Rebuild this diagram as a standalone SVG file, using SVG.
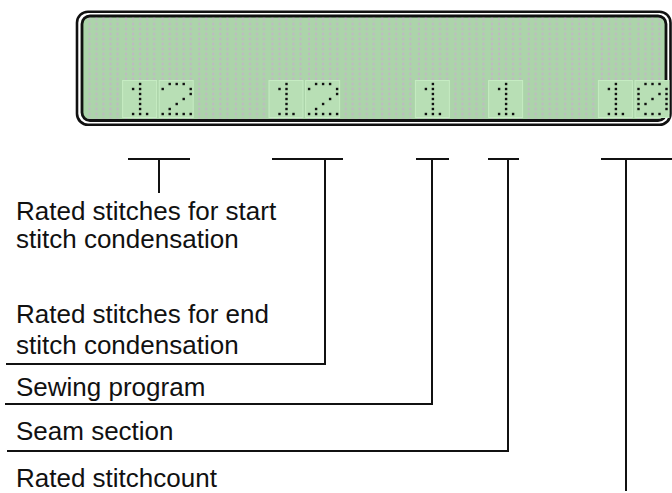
<svg xmlns="http://www.w3.org/2000/svg" xmlns:xlink="http://www.w3.org/1999/xlink" width="672" height="493" viewBox="0 0 672 493">
<style>
.lbl{font-family:"Liberation Sans",Arial,sans-serif;font-size:26px;fill:#111}
.ln{fill:none;stroke:#111;stroke-width:2;stroke-linecap:square}
.dot{fill:#111}
.cell{fill:#b8dfb5;stroke:#c6ecc3;stroke-width:1}
</style>
<defs>
<pattern id="grid" patternUnits="userSpaceOnUse" x="85.5" y="81.5" width="36.6" height="5">
<rect x="2.9" y="1.4" width="2.2" height="2.2" fill="#c2b6c6"/>
<rect x="9.9" y="1.4" width="2.2" height="2.2" fill="#c2b6c6"/>
<rect x="16.9" y="1.4" width="2.2" height="2.2" fill="#c2b6c6"/>
<rect x="23.9" y="1.4" width="2.2" height="2.2" fill="#c2b6c6"/>
<rect x="30.9" y="1.4" width="2.2" height="2.2" fill="#c2b6c6"/>
</pattern>
<g id="g1" class="dot">
<rect x="16.8" y="82.8" width="2.4" height="2.4"/>
<rect x="9.8" y="87.8" width="2.4" height="2.4"/><rect x="16.8" y="87.8" width="2.4" height="2.4"/>
<rect x="16.8" y="92.8" width="2.4" height="2.4"/>
<rect x="16.8" y="97.8" width="2.4" height="2.4"/>
<rect x="16.8" y="102.8" width="2.4" height="2.4"/>
<rect x="16.8" y="107.8" width="2.4" height="2.4"/>
<rect x="9.8" y="112.8" width="2.4" height="2.4"/><rect x="16.8" y="112.8" width="2.4" height="2.4"/><rect x="23.8" y="112.8" width="2.4" height="2.4"/>
</g>
<g id="g2" class="dot">
<rect x="9.8" y="82.8" width="2.4" height="2.4"/><rect x="16.8" y="82.8" width="2.4" height="2.4"/><rect x="23.8" y="82.8" width="2.4" height="2.4"/>
<rect x="2.8" y="87.8" width="2.4" height="2.4"/><rect x="30.8" y="87.8" width="2.4" height="2.4"/>
<rect x="30.8" y="92.8" width="2.4" height="2.4"/>
<rect x="23.8" y="97.8" width="2.4" height="2.4"/>
<rect x="16.8" y="102.8" width="2.4" height="2.4"/>
<rect x="9.8" y="107.8" width="2.4" height="2.4"/>
<rect x="2.8" y="112.8" width="2.4" height="2.4"/><rect x="9.8" y="112.8" width="2.4" height="2.4"/><rect x="16.8" y="112.8" width="2.4" height="2.4"/><rect x="23.8" y="112.8" width="2.4" height="2.4"/><rect x="30.8" y="112.8" width="2.4" height="2.4"/>
</g>
<g id="g0" class="dot">
<rect x="9.8" y="82.8" width="2.4" height="2.4"/><rect x="16.8" y="82.8" width="2.4" height="2.4"/><rect x="23.8" y="82.8" width="2.4" height="2.4"/>
<rect x="2.8" y="87.8" width="2.4" height="2.4"/><rect x="30.8" y="87.8" width="2.4" height="2.4"/>
<rect x="2.8" y="92.8" width="2.4" height="2.4"/><rect x="23.8" y="92.8" width="2.4" height="2.4"/><rect x="30.8" y="92.8" width="2.4" height="2.4"/>
<rect x="2.8" y="97.8" width="2.4" height="2.4"/><rect x="16.8" y="97.8" width="2.4" height="2.4"/><rect x="30.8" y="97.8" width="2.4" height="2.4"/>
<rect x="2.8" y="102.8" width="2.4" height="2.4"/><rect x="9.8" y="102.8" width="2.4" height="2.4"/><rect x="30.8" y="102.8" width="2.4" height="2.4"/>
<rect x="2.8" y="107.8" width="2.4" height="2.4"/><rect x="30.8" y="107.8" width="2.4" height="2.4"/>
<rect x="9.8" y="112.8" width="2.4" height="2.4"/><rect x="16.8" y="112.8" width="2.4" height="2.4"/><rect x="23.8" y="112.8" width="2.4" height="2.4"/>
</g>
<rect id="cellbox" class="cell" x="0.5" y="80.5" width="34" height="37"/>
</defs>
<rect width="672" height="493" fill="#ffffff"/>
<g id="display">
<rect x="77" y="11.7" width="593.5" height="113" rx="11" fill="#ffffff" stroke="#111" stroke-width="2.6"/>
<rect x="82" y="16" width="584" height="104.5" rx="8" fill="#acd4aa" stroke="#111" stroke-width="2.8"/>
<rect x="83.4" y="17.4" width="581.2" height="101.7" rx="7" fill="url(#grid)"/>
<g id="digits">
<use xlink:href="#cellbox" x="122.1"/><use xlink:href="#g1" x="122.1"/>
<use xlink:href="#cellbox" x="158.7"/><use xlink:href="#g2" x="158.7"/>
<use xlink:href="#cellbox" x="268.5"/><use xlink:href="#g1" x="268.5"/>
<use xlink:href="#cellbox" x="305.1"/><use xlink:href="#g2" x="305.1"/>
<use xlink:href="#cellbox" x="414.9"/><use xlink:href="#g1" x="414.9"/>
<use xlink:href="#cellbox" x="488.1"/><use xlink:href="#g1" x="488.1"/>
<use xlink:href="#cellbox" x="597.9"/><use xlink:href="#g1" x="597.9"/>
<use xlink:href="#cellbox" x="634.5"/><use xlink:href="#g0" x="634.5"/>
</g>
</g>
<g id="connectors">
<path class="ln" d="M129 159H189M159 159V192"/>
<path class="ln" d="M273 159H342M325 159V364H7"/>
<path class="ln" d="M417 159H448M432 159V404H6"/>
<path class="ln" d="M489 159H518M508 159V451H8"/>
<path class="ln" d="M602 159H672M626 159V490"/>
</g>
<g id="label-start"><text class="lbl" x="16" y="220">Rated stitches for start</text><text class="lbl" x="16" y="248">stitch condensation</text></g>
<g id="label-end"><text class="lbl" x="16" y="323">Rated stitches for end</text><text class="lbl" x="16" y="354">stitch condensation</text></g>
<g id="label-program"><text class="lbl" x="16" y="396">Sewing program</text></g>
<g id="label-section"><text class="lbl" x="16" y="440">Seam section</text></g>
<g id="label-count"><text class="lbl" x="16" y="487">Rated stitchcount</text></g>
</svg>
